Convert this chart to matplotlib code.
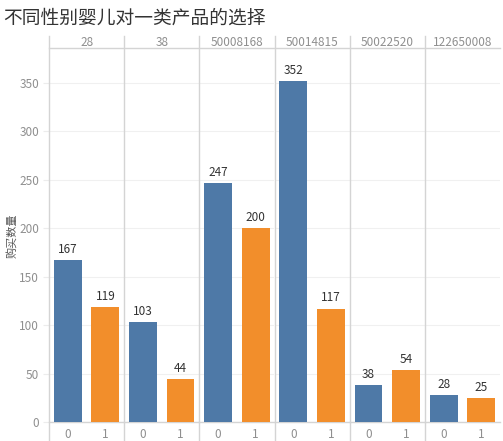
import matplotlib
matplotlib.use("Agg")
import matplotlib.pyplot as plt
from matplotlib.lines import Line2D

plt.rcParams['font.family'] = ['Noto Sans CJK SC', 'DejaVu Sans']

# data
categories = ["28", "38", "50008168", "50014815", "50022520", "122650008"]
genders = ["0", "1"]
counts_0 = [167, 103, 247, 352, 38, 28]
counts_1 = [119, 44, 200, 117, 54, 25]
y_ticks = [0, 50, 100, 150, 200, 250, 300, 350]

blue = "#4e79a7"
orange = "#f28e2b"
grey_line = "#d4d4d4"
grey_text = "#8f8f8f"

W, H = 503, 441
fig = plt.figure(figsize=(W / 100, H / 100), dpi=100)

left, right = 49 / W, 500 / W
bottom, top = (H - 422) / H, (H - 48) / H
head_top = (H - 36) / H
pw = (right - left) / len(categories)

fig.text(3 / W, 1 - 18 / H, "不同性别婴儿对一类产品的选择", fontsize=13.5,
         color="#333333", va="center", ha="left")
fig.text(12 / W, 1 - 236 / H, "购买数量", fontsize=8, color="#555555",
         rotation=90, va="center", ha="center")

for i, cat in enumerate(categories):
    ax = fig.add_axes([left + i * pw, bottom, pw, top - bottom])
    vals = [counts_0[i], counts_1[i]]
    bars = ax.bar([0, 1], vals, width=0.74, color=[blue, orange], zorder=3)
    for b, v in zip(bars, vals):
        ax.annotate(str(v), (b.get_x() + b.get_width() / 2, v),
                    xytext=(0, 3), textcoords="offset points",
                    ha="center", va="bottom", fontsize=8.5, color="#333333")
    ax.set_xlim(-0.5, 1.5)
    ax.set_ylim(0, 386)
    ax.set_xticks([0, 1])
    ax.set_xticklabels(genders, fontsize=8.5, color=grey_text)
    ax.tick_params(axis="x", length=0, pad=4)
    ax.set_yticks(y_ticks)
    ax.grid(axis="y", color="#f0f0f0", linewidth=0.8, zorder=0)
    if i == 0:
        ax.set_yticklabels([str(t) for t in y_ticks], fontsize=8.5, color=grey_text)
        ax.tick_params(axis="y", length=4, color="#ececec", pad=3)
    else:
        ax.tick_params(axis="y", length=0, labelleft=False)
    for s in ["left", "right", "top"]:
        ax.spines[s].set_visible(False)
    ax.spines["bottom"].set_color(grey_line)
    ax.spines["bottom"].set_linewidth(1)
    fig.text(left + (i + 0.5) * pw, 1 - 42 / H, cat, fontsize=8.5,
             color=grey_text, ha="center", va="center")

# header line and panel separators
fig.add_artist(Line2D([left, right], [top, top], color=grey_line, lw=1))
for i in range(len(categories)):
    x = left + i * pw
    fig.add_artist(Line2D([x, x], [0, head_top], color=grey_line, lw=1))

fig.savefig("out.png", dpi=100)
